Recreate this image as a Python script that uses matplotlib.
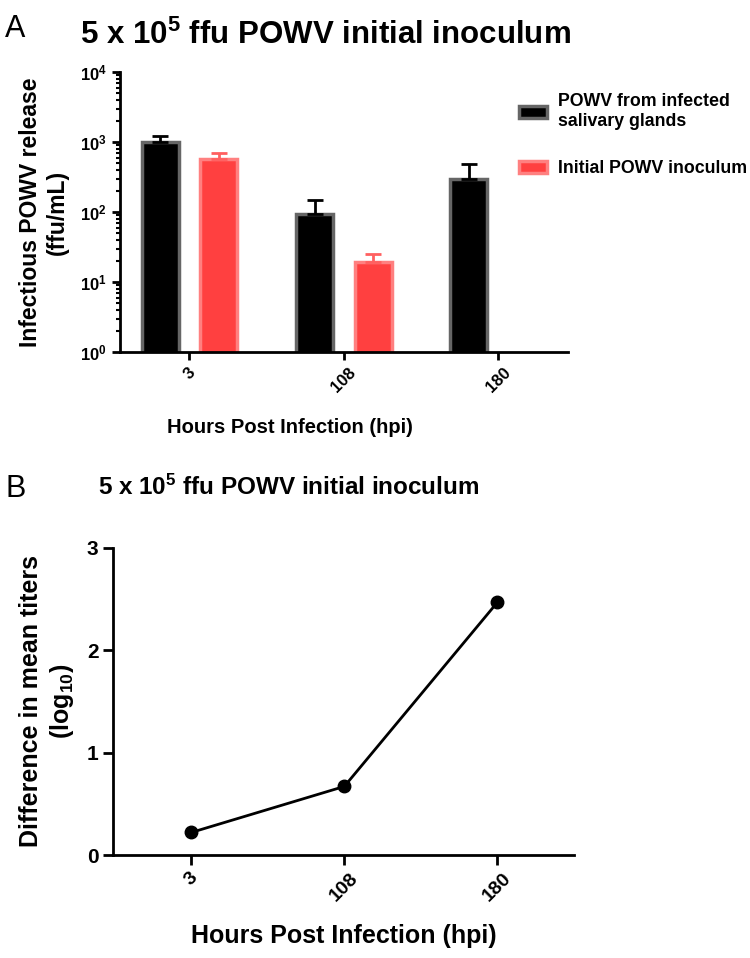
import matplotlib
matplotlib.use('Agg')
import matplotlib.pyplot as plt
from matplotlib.patches import Patch
import numpy as np

plt.rcParams['font.family'] = ['Liberation Sans', 'DejaVu Sans']
plt.rcParams['font.weight'] = 'bold'
plt.rcParams['axes.labelweight'] = 'bold'
plt.rcParams['axes.titleweight'] = 'bold'
plt.rcParams['mathtext.fontset'] = 'custom'
plt.rcParams['mathtext.rm'] = 'Liberation Sans:bold'
plt.rcParams['mathtext.it'] = 'Liberation Sans:bold'
plt.rcParams['mathtext.bf'] = 'Liberation Sans:bold'

# data
hpi = ['3', '108', '180']
sg_mean = [1000, 93, 296]
sg_err = [230, 55, 190]
inoc_mean = [575, 19.5, np.nan]
inoc_err = [125, 5.5, np.nan]
diff_log = [0.22, 0.67, 2.47]

fig = plt.figure(figsize=(7.5, 9.58), dpi=100)

# ---- panel A ----
ax = fig.add_axes([0.16, 0.6326, 0.597, 0.2922])
x = np.arange(len(hpi))
ax.bar(x - 0.19, sg_mean, width=0.24, color='black', edgecolor='#666666', linewidth=2.5,
       yerr=[np.zeros(3), sg_err], error_kw=dict(ecolor='black', elinewidth=2, capsize=6, capthick=2))
ax.bar(x + 0.19, inoc_mean, width=0.24, color='#FF4040', edgecolor='#FF8080', linewidth=2.5,
       yerr=[np.zeros(3), inoc_err], error_kw=dict(ecolor='#FF6060', elinewidth=2, capsize=6, capthick=2))
ax.set_yscale('log')
ax.set_ylim(1, 1e4)
ax.set_xlim(-0.45, 2.45)
ax.set_yticks([1, 10, 100, 1000, 10000])
ax.set_yticklabels(['10$^0$', '10$^1$', '10$^2$', '10$^3$', '10$^4$'], fontsize=12)
ax.set_xticks(x)
ax.set_xticklabels(hpi, rotation=45, fontsize=12)
ax.spines['top'].set_visible(False)
ax.spines['right'].set_visible(False)
for s in ['left', 'bottom']:
    ax.spines[s].set_linewidth(2)
ax.tick_params(axis='both', which='major', width=2, length=6)
ax.tick_params(axis='y', which='minor', width=1.5, length=3)
ax.set_ylabel('Infectious POWV release\n(ffu/mL)', fontsize=16.5, labelpad=8)
ax.set_xlabel('Hours Post Infection (hpi)', fontsize=14.5, labelpad=16, x=0.38)
ax.set_title('5 x 10$^5$ ffu POWV initial inoculum', fontsize=22.5, pad=20, x=0.458)

handles = [Patch(facecolor='black', edgecolor='#666666', linewidth=2.5),
           Patch(facecolor='#FF4040', edgecolor='#FF8080', linewidth=2.5)]
fig.legend(handles, ['POWV from infected\nsalivary glands', 'Initial POWV inoculum'],
           loc='upper left', bbox_to_anchor=(0.682, 0.91), frameon=False, fontsize=12.8,
           handlelength=1.6, handleheight=0.6, labelspacing=1.7, handletextpad=0.6,
           borderaxespad=0)

fig.text(0.007, 0.985, 'A', fontsize=22, fontweight='normal', va='top')

# ---- panel B ----
bx = fig.add_axes([0.1507, 0.1075, 0.6147, 0.3205])
bx.plot(x, diff_log, color='black', linewidth=2, marker='o', markersize=9)
bx.set_xlim(-0.51, 2.5)
bx.set_ylim(0, 3)
bx.set_yticks([0, 1, 2, 3])
bx.set_yticklabels(['0', '1', '2', '3'], fontsize=15)
bx.set_xticks(x)
bx.set_xticklabels(hpi, rotation=45, fontsize=14)
bx.spines['top'].set_visible(False)
bx.spines['right'].set_visible(False)
for s in ['left', 'bottom']:
    bx.spines[s].set_linewidth(2)
bx.tick_params(axis='both', width=2, length=7)
bx.set_ylabel('Difference in mean titers\n(log$_{10}$)', fontsize=18, labelpad=8)
bx.set_xlabel('Hours Post Infection (hpi)', fontsize=18, labelpad=14)
bx.set_title('5 x 10$^5$ ffu POWV initial inoculum', fontsize=17.5, pad=38, x=0.38)

fig.text(0.007, 0.505, 'B', fontsize=22, fontweight='normal', va='top')

fig.savefig('out.png', dpi=100)
